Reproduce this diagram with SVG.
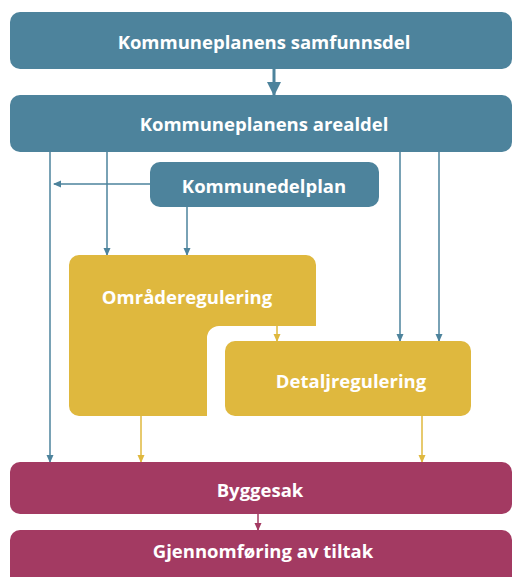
<svg xmlns="http://www.w3.org/2000/svg" width="513" height="577" viewBox="0 0 513 577">
<style>
.blue{fill:#4d839c}
.yel{fill:#dfb83e}
.mag{fill:#a33a62}
text{font-family:"Open Sans","Liberation Sans",sans-serif;font-weight:bold;font-size:18.5px;fill:#fff;text-anchor:middle;dominant-baseline:central}
.lb{stroke:#4d839c;stroke-width:1.5;fill:none}
.ly{stroke:#dfb83e;stroke-width:1.5;fill:none}
.lm{stroke:#a33a62;stroke-width:1.5;fill:none}
</style>
<defs>
<marker id="ab" markerWidth="8" markerHeight="8" refX="7" refY="4" orient="auto" markerUnits="userSpaceOnUse"><path d="M0,0.5 L8,4 L0,7.5 Z" fill="#4d839c"/></marker>
<marker id="ay" markerWidth="8" markerHeight="8" refX="7" refY="4" orient="auto" markerUnits="userSpaceOnUse"><path d="M0,0.5 L8,4 L0,7.5 Z" fill="#dfb83e"/></marker>
<marker id="am" markerWidth="8" markerHeight="8" refX="7" refY="4" orient="auto" markerUnits="userSpaceOnUse"><path d="M0,0.5 L8,4 L0,7.5 Z" fill="#a33a62"/></marker>
<marker id="abig" markerWidth="14" markerHeight="14" refX="13" refY="7" orient="auto" markerUnits="userSpaceOnUse"><path d="M0,0 L14,7 L0,14 Z" fill="#4d839c"/></marker>
</defs>
<g id="connectors">
<line class="lb" x1="274" y1="69" x2="274" y2="95" marker-end="url(#abig)" style="stroke-width:3"/>
<line class="lb" x1="50" y1="152" x2="50" y2="462" marker-end="url(#ab)"/>
<line class="lb" x1="107" y1="152" x2="107" y2="255" marker-end="url(#ab)"/>
<line class="lb" x1="400" y1="152" x2="400" y2="341" marker-end="url(#ab)"/>
<line class="lb" x1="439" y1="152" x2="439" y2="341" marker-end="url(#ab)"/>
<line class="lb" x1="150" y1="184" x2="54" y2="184" marker-end="url(#ab)"/>
<line class="lb" x1="187" y1="207" x2="187" y2="255" marker-end="url(#ab)"/>
<line class="ly" x1="277" y1="326" x2="277" y2="341" marker-end="url(#ay)"/>
<line class="ly" x1="141" y1="416" x2="141" y2="462" marker-end="url(#ay)"/>
<line class="ly" x1="422" y1="416" x2="422" y2="462" marker-end="url(#ay)"/>
<line class="lm" x1="258" y1="514" x2="258" y2="530" marker-end="url(#am)"/>
</g>
<g id="samfunnsdel">
<rect class="blue" x="10" y="12" width="502" height="57" rx="10"/>
<text x="264" y="41">Kommuneplanens samfunnsdel</text>
</g>
<g id="arealdel">
<rect class="blue" x="10" y="95" width="502" height="57" rx="10"/>
<text x="264" y="123">Kommuneplanens arealdel</text>
</g>
<g id="kommunedelplan">
<rect class="blue" x="150" y="162" width="229" height="45" rx="10"/>
<text x="264" y="185">Kommunedelplan</text>
</g>
<g id="omraderegulering">
<path class="yel" d="M79,255 H306 A10,10 0 0 1 316,265 V326 H219 A12,12 0 0 0 207,338 V416 H79 A10,10 0 0 1 69,406 V265 A10,10 0 0 1 79,255 Z"/>
<text x="187" y="296">Områderegulering</text>
</g>
<g id="detaljregulering">
<rect class="yel" x="225" y="341" width="246" height="75" rx="10"/>
<text x="351" y="380">Detaljregulering</text>
</g>
<g id="byggesak">
<rect class="mag" x="10" y="462" width="502" height="52" rx="10"/>
<text x="260" y="489">Byggesak</text>
</g>
<g id="gjennomforing">
<rect class="mag" x="10" y="530" width="502" height="60" rx="10"/>
<text x="263" y="550">Gjennomføring av tiltak</text>
</g>
</svg>
